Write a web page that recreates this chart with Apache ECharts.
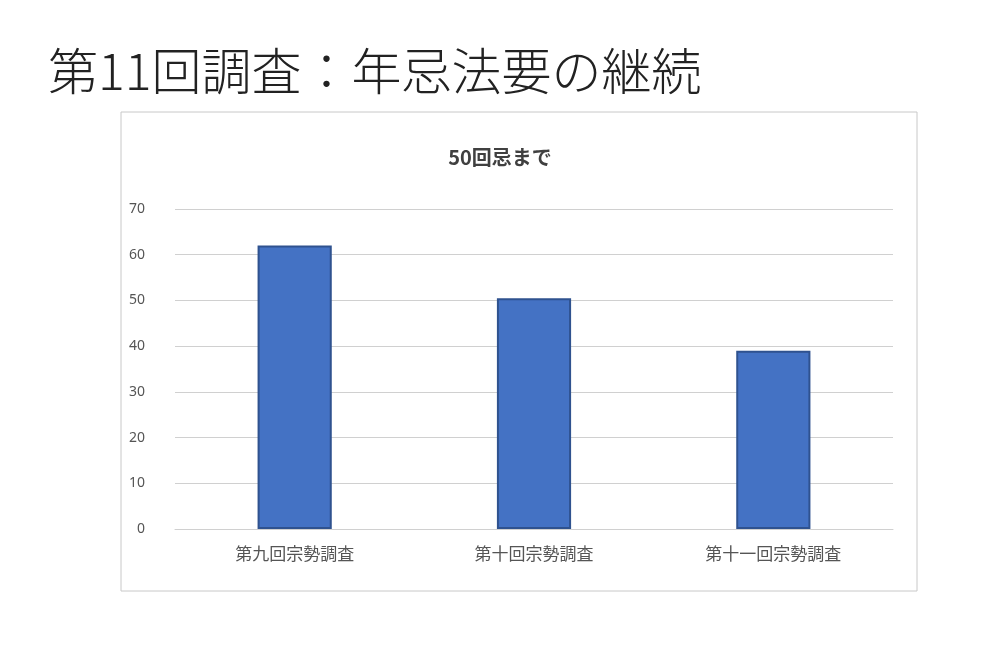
<!DOCTYPE html>
<html><head><meta charset="utf-8">
<script src="https://cdn.jsdelivr.net/npm/echarts@6/dist/echarts.min.js"></script>
<style>html,body{margin:0;padding:0;background:#fff}#c{width:1000px;height:652px}</style>
</head><body><div id="c"></div>
<script>
const pageTitle = '第11回調査：年忌法要の継続';
const chartTitle = '50回忌まで';
const categories = ['第九回宗勢調査', '第十回宗勢調査', '第十一回宗勢調査'];
const values = [62, 50.5, 39];
const chart = echarts.init(document.getElementById('c'));
chart.setOption({
  animation: false,
  backgroundColor: '#fff',
  graphic: [
    {type: 'rect', shape: {x: 121, y: 112, width: 796, height: 479}, style: {fill: 'none', stroke: '#c8c8c8', lineWidth: 1}},
    {type: 'text', left: 48, top: 46, style: {text: pageTitle, font: '300 50px "Noto Sans CJK JP"', fill: '#222'}}
  ],
  title: {text: chartTitle, left: 'center', top: 142, textStyle: {fontFamily: 'Noto Sans CJK JP', fontSize: 20, fontWeight: 'bold', color: '#404040'}},
  grid: {left: 175, right: 107, top: 209, bottom: 123},
  xAxis: {type: 'category', data: categories,
    axisLine: {lineStyle: {color: '#d0d0d0'}}, axisTick: {show: false},
    axisLabel: {fontFamily: 'Noto Sans CJK JP', fontSize: 17, color: '#555', margin: 16}},
  yAxis: {type: 'value', min: 0, max: 70, interval: 10,
    axisLabel: {fontSize: 14, color: '#555', margin: 30, fontFamily: 'Noto Sans'},
    splitLine: {lineStyle: {color: '#d0d0d0'}}},
  series: [{type: 'bar', data: values, barWidth: '31%',
    itemStyle: {color: '#4472C4', borderColor: '#2F528F', borderWidth: 2}}]
});
</script></body></html>
